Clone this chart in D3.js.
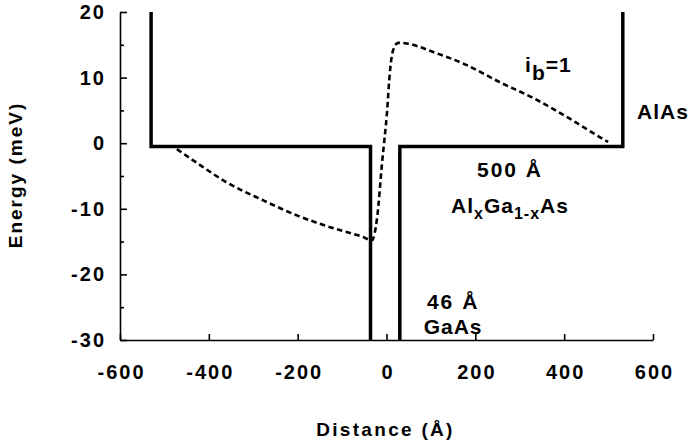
<!DOCTYPE html>
<html>
<head>
<meta charset="utf-8">
<script src="https://cdn.jsdelivr.net/npm/d3@7"></script>
<style>
  body { margin: 0; background: #fff; }
  svg text { font-family: "Liberation Sans", Arial, Helvetica, sans-serif; font-weight: bold; fill: #000; }
</style>
</head>
<body>
<div id="chart"></div>
<script>
// tick values
var xTicks = [-600, -400, -200, 0, 200, 400, 600];
var yTicks = [-30, -20, -10, 0, 10, 20];
var yMinorTicks = [-25, -15, -5, 5, 15];

// band edge profile (solid), two pieces
var barrierLeftX = [-530, -530, -36, -36];
var barrierLeftY = [20, -0.5, -0.5, -30];
var barrierRightX = [30, 30, 532, 532];
var barrierRightY = [-30, -0.5, -0.5, 20];

// self-consistent potential, i_b = 1 (dashed)
var potX = [-472, -427, -359, -278, -202, -127, -53, -33, -21, -10, 1, 8, 15, 26, 46, 105, 181, 255, 330, 406, 481, 499];
var potY = [-0.9, -3.0, -6.0, -8.7, -11.0, -12.8, -14.3, -14.8, -11.3, -3.0, 4.6, 11.1, 14.2, 15.3, 15.2, 13.9, 11.9, 9.3, 6.9, 4.0, 0.9, 0.2];

var width = 694, height = 448;
var margin = {top: 12, right: 41, bottom: 108, left: 120};

var x = d3.scaleLinear()
    .domain([-600, 600])
    .range([margin.left, width - margin.right]);

var y = d3.scaleLinear()
    .domain([-30, 20])
    .range([height - margin.bottom, margin.top]);

var svg = d3.select('#chart').append('svg')
    .attr('width', width)
    .attr('height', height);

// plain hyphen for negatives, like the original
var fmt = function(d) { return String(d); };

// axes, ticks pointing inward
var xAxis = d3.axisBottom(x)
    .tickValues(xTicks)
    .tickSizeInner(-6)
    .tickSizeOuter(0)
    .tickPadding(25)
    .tickFormat(fmt);

var yAxis = d3.axisLeft(y)
    .tickValues(yTicks)
    .tickSizeInner(-7)
    .tickSizeOuter(0)
    .tickPadding(14)
    .tickFormat(fmt);

var gx = svg.append('g')
    .attr('transform', 'translate(0,' + y(-30) + ')')
    .call(xAxis);

var gy = svg.append('g')
    .attr('transform', 'translate(' + x(-600) + ',0)')
    .call(yAxis);

svg.append('g')
    .attr('transform', 'translate(' + x(-600) + ',0)')
    .call(d3.axisLeft(y).tickValues(yMinorTicks).tickSizeInner(-4).tickSizeOuter(0).tickFormat(''))
    .select('.domain').remove();

[gx, gy].forEach(function(g) {
    g.selectAll('.domain').attr('stroke', '#000').attr('stroke-width', 1.6);
    g.selectAll('.tick text')
        .attr('font-size', 20)
        .attr('letter-spacing', '2px')
        .attr('fill', '#000');
});
svg.selectAll('.tick line').attr('stroke', '#000').attr('stroke-width', 1.6);
gx.selectAll('.tick text').attr('dy', '0.71em').attr('dx', 1);

// axis titles
svg.append('text')
    .attr('x', (x(-600) + x(600)) / 2 - 1)
    .attr('y', 436)
    .attr('text-anchor', 'middle')
    .attr('font-size', 19)
    .attr('letter-spacing', '2.3px')
    .text('Distance (Å)');

svg.append('text')
    .attr('transform', 'translate(22,' + 175 + ') rotate(-90)')
    .attr('text-anchor', 'middle')
    .attr('font-size', 19)
    .attr('letter-spacing', '2px')
    .text('Energy (meV)');

// band edges
var line = d3.line()
    .x(function(d) { return x(d[0]); })
    .y(function(d) { return y(d[1]); });

svg.append('path')
    .datum(d3.zip(barrierLeftX, barrierLeftY))
    .attr('d', line)
    .attr('fill', 'none')
    .attr('stroke', '#000')
    .attr('stroke-width', 3.5)
    .attr('stroke-linejoin', 'miter');

svg.append('path')
    .datum(d3.zip(barrierRightX, barrierRightY))
    .attr('d', line)
    .attr('fill', 'none')
    .attr('stroke', '#000')
    .attr('stroke-width', 3.5)
    .attr('stroke-linejoin', 'miter');

// dashed potential
svg.append('path')
    .datum(d3.zip(potX, potY))
    .attr('d', line.curve(d3.curveMonotoneX))
    .attr('fill', 'none')
    .attr('stroke', '#000')
    .attr('stroke-width', 2.6)
    .attr('stroke-dasharray', '5.5,3.5');

// annotations
var ib = svg.append('text')
    .attr('x', x(312))
    .attr('y', y(10.8))
    .attr('font-size', 21)
    .attr('letter-spacing', '1px');
ib.append('tspan').text('i');
ib.append('tspan').attr('dy', 8).text('b');
ib.append('tspan').attr('dy', -8).text('=1');

svg.append('text')
    .attr('x', x(564))
    .attr('y', y(3.7))
    .attr('font-size', 21)
    .attr('letter-spacing', '1px')
    .text('AlAs');

svg.append('text')
    .attr('x', x(278))
    .attr('y', y(-5.2))
    .attr('text-anchor', 'middle')
    .attr('font-size', 21)
    .attr('letter-spacing', '2px')
    .text('500 Å');

var alg = svg.append('text')
    .attr('x', x(278))
    .attr('y', y(-10.7))
    .attr('text-anchor', 'middle')
    .attr('font-size', 21)
    .attr('letter-spacing', '1px');
alg.append('tspan').text('Al');
alg.append('tspan').attr('dy', 6).attr('font-size', 16).text('x');
alg.append('tspan').attr('dy', -6).text('Ga');
alg.append('tspan').attr('dy', 6).attr('font-size', 16).text('1-x');
alg.append('tspan').attr('dy', -6).text('As');

svg.append('text')
    .attr('x', x(150))
    .attr('y', y(-25.2))
    .attr('text-anchor', 'middle')
    .attr('font-size', 21)
    .attr('letter-spacing', '2px')
    .text('46 Å');

svg.append('text')
    .attr('x', x(150))
    .attr('y', y(-29.1))
    .attr('text-anchor', 'middle')
    .attr('font-size', 21)
    .attr('letter-spacing', '1px')
    .text('GaAs');
</script>
</body>
</html>
